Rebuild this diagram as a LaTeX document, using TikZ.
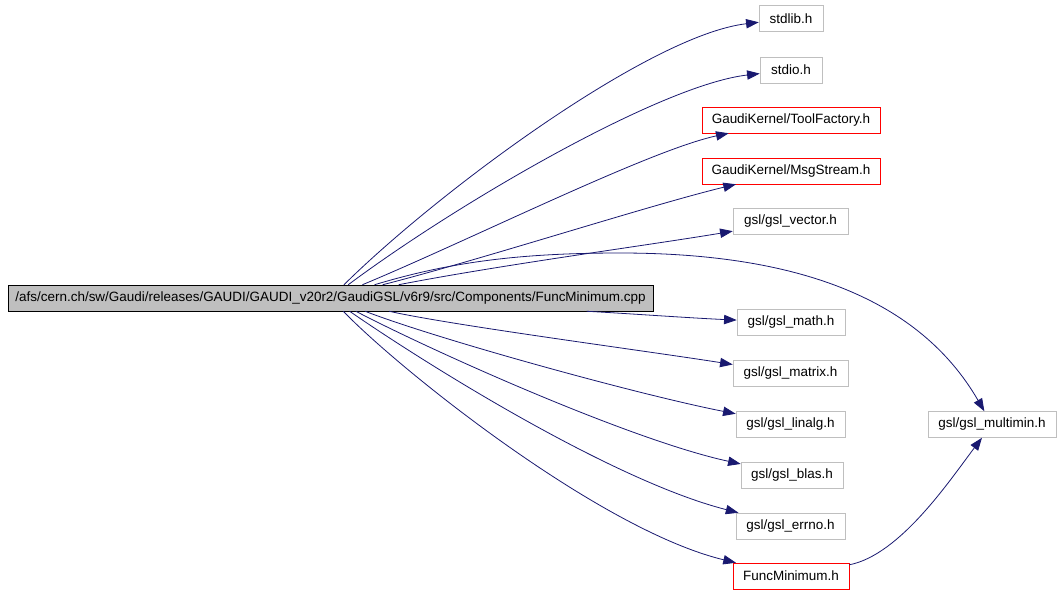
\documentclass[tikz,border=0pt]{standalone}
\usepackage{fontspec}
\setmainfont{Liberation Sans}
\usetikzlibrary{arrows.meta}

\definecolor{midblue}{HTML}{191970}
\definecolor{grey75}{HTML}{BFBFBF}

\tikzset{
  hdr/.style={draw=grey75, rectangle, inner sep=0pt, minimum height=19.5pt,
    font=\fontsize{10.1}{12}\selectfont},
  own/.style={hdr, draw=red},
  edge/.style={midblue, line width=0.6pt, -{Triangle[length=9.5pt,width=7pt]}}
}

\begin{document}
\begin{tikzpicture}[x=0.75pt, y=-0.75pt]

\useasboundingbox (0,0) rectangle (1061,594);

\node[hdr, draw=black, fill=grey75, minimum width=483.75pt] (main) at (330.5,298)
  {/afs/cern.ch/sw/Gaudi/releases/GAUDI/GAUDI\_v20r2/GaudiGSL/v6r9/src/Components/FuncMinimum.cpp};

\node[hdr, minimum width=48pt]    (stdlib)  at (791,18.5) {stdlib.h};
\node[hdr, minimum width=46.5pt]  (stdio)   at (791,70) {stdio.h};
\node[own, minimum width=133.5pt] (tool)    at (791,120) {GaudiKernel/ToolFactory.h};
\node[own, minimum width=133.5pt] (msg)     at (791,171) {GaudiKernel/MsgStream.h};
\node[hdr, minimum width=86.25pt] (vector)  at (790.5,221.5) {gsl/gsl\_vector.h};
\node[hdr, minimum width=81pt]    (math)    at (791,322.5) {gsl/gsl\_math.h};
\node[hdr, minimum width=86.25pt] (matrix)  at (790.5,373.5) {gsl/gsl\_matrix.h};
\node[hdr, minimum width=81.75pt] (linalg)  at (790.5,424.5) {gsl/gsl\_linalg.h};
\node[hdr, minimum width=76.5pt]  (blas)    at (792,475) {gsl/gsl\_blas.h};
\node[hdr, minimum width=81.75pt] (errno)   at (790.5,526) {gsl/gsl\_errno.h};
\node[own, minimum width=87pt]    (funcmin) at (791,576) {FuncMinimum.h};
\node[hdr, minimum width=96pt]    (multimin) at (992,424.5) {gsl/gsl\_multimin.h};

\foreach \t/\ax/\ay/\bx/\by in {stdlib/440/190/650/35, stdio/455/205/660/85,
    tool/470/240/650/150, msg/480/260/650/205, vector/500/265/650/245,
    math/620/313/690/318, matrix/450/325/640/350, linalg/440/340/640/395,
    blas/430/350/630/440, errno/420/360/610/480, funcmin/400/370/600/530} {
  \draw[edge] (main) .. controls (\ax,\ay) and (\bx,\by) .. (\t);
}

\draw[edge] (main) .. controls (450,262) and (520,253) .. (620,253)
  .. controls (800,253) and (920,300) .. (multimin);
\draw[edge] (funcmin) .. controls (900,555) and (950,480) .. (multimin);

\end{tikzpicture}
\end{document}
